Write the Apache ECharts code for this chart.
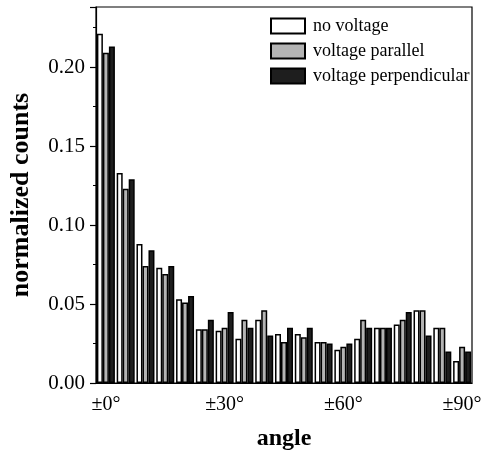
<!DOCTYPE html>
<html>
<head>
<meta charset="utf-8">
<script src="https://cdn.jsdelivr.net/npm/echarts@6/dist/echarts.min.js"></script>
<style>
  html, body { margin: 0; padding: 0; background: #fff; }
  #chart { width: 482px; height: 458px; }
</style>
</head>
<body>
<div id="chart"></div>
<script>
// angle bins, 5 degrees wide
const angles = [0, 5, 10, 15, 20, 25, 30, 35, 40, 45, 50, 55, 60, 65, 70, 75, 80, 85, 90];
const noVoltage = [0.221, 0.133, 0.088, 0.073, 0.053, 0.034, 0.033, 0.028, 0.040, 0.031, 0.031, 0.026, 0.021, 0.028, 0.035, 0.037, 0.046, 0.035, 0.014];
const parallel = [0.209, 0.123, 0.074, 0.069, 0.051, 0.034, 0.035, 0.040, 0.046, 0.026, 0.029, 0.026, 0.023, 0.040, 0.035, 0.040, 0.046, 0.035, 0.023];
const perpendicular = [0.213, 0.129, 0.084, 0.074, 0.055, 0.040, 0.045, 0.035, 0.030, 0.035, 0.035, 0.025, 0.025, 0.035, 0.035, 0.045, 0.030, 0.020, 0.020];
const seriesNames = ['no voltage', 'voltage parallel', 'voltage perpendicular'];

const font = 'Liberation Serif, DejaVu Serif, serif';
const chart = echarts.init(document.getElementById('chart'));

function barSeries(name, data, color) {
  return {
    name: name,
    type: 'bar',
    data: data,
    barWidth: 6,
    barGap: '0%',
    itemStyle: { color: color, borderColor: '#000', borderWidth: 1.5 }
  };
}

chart.setOption({
  animation: false,
  grid: {
    left: 96, right: 10, top: 7, bottom: 75,
    outerBoundsMode: 'none',
    show: true, borderColor: '#000', borderWidth: 1.2
  },
  legend: {
    left: 265, top: 12,
    orient: 'vertical',
    itemWidth: 34, itemHeight: 15, itemGap: 7,
    icon: 'rect',
    textStyle: { fontFamily: font, fontSize: 18, color: '#000', padding: [0, 0, 0, 3] },
    data: seriesNames
  },
  xAxis: {
    type: 'category',
    data: angles,
    name: 'angle',
    nameLocation: 'middle',
    nameGap: 44,
    nameTextStyle: { fontFamily: font, fontSize: 24, fontWeight: 'bold', color: '#000' },
    axisLine: { lineStyle: { color: '#000', width: 1.2 } },
    axisTick: {
      alignWithLabel: true, length: 4,
      interval: function (i) { return i % 2 === 0; },
      lineStyle: { color: '#000', width: 1.2 }
    },
    axisLabel: {
      interval: function (i) { return i % 6 === 0; },
      formatter: function (v) { return '±' + v + '°'; },
      fontFamily: font, fontSize: 20, color: '#000', margin: 12
    }
  },
  yAxis: {
    type: 'value',
    min: 0, max: 0.238, interval: 0.05,
    name: 'normalized counts',
    nameLocation: 'middle',
    nameGap: 62,
    nameTextStyle: { fontFamily: font, fontSize: 26, fontWeight: 'bold', color: '#000' },
    axisLine: { show: true, lineStyle: { color: '#000', width: 1.2 } },
    axisTick: { show: true, length: 6, lineStyle: { color: '#000', width: 1.2 } },
    minorTick: { show: true, splitNumber: 2, length: 3, lineStyle: { color: '#000', width: 1 } },
    splitLine: { show: false },
    axisLabel: {
      showMaxLabel: false,
      formatter: function (v) { return v.toFixed(2); },
      fontFamily: font, fontSize: 21, color: '#000', margin: 11
    }
  },
  series: [
    barSeries(seriesNames[0], noVoltage, '#ffffff'),
    barSeries(seriesNames[1], parallel, '#b4b4b4'),
    barSeries(seriesNames[2], perpendicular, '#1e1e1e')
  ]
});
</script>
</body>
</html>
